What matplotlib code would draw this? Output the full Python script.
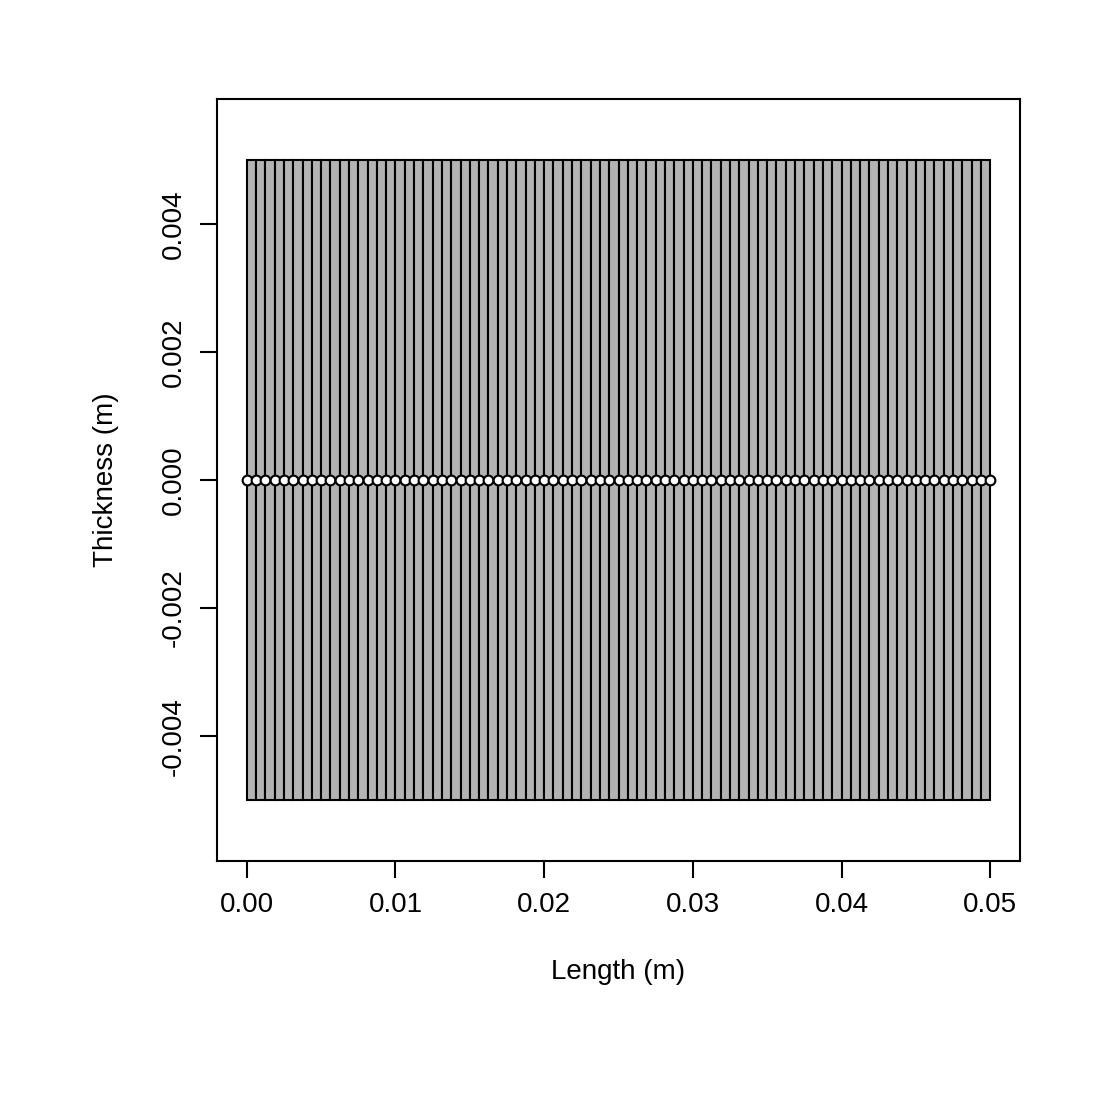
import matplotlib.pyplot as plt
import numpy as np

length = 0.05
thickness = 0.01
n_cells = 80
nodes = np.linspace(0, length, n_cells + 1)
node_y = np.zeros(n_cells + 1)

plt.rcParams['font.family'] = ['Liberation Sans', 'DejaVu Sans']
fig = plt.figure(figsize=(11, 11), dpi=100)
ax = fig.add_axes([217/1100, 239/1100, 803/1100, 762/1100])

for i in range(n_cells):
    ax.add_patch(plt.Rectangle((nodes[i], -thickness/2), nodes[i+1] - nodes[i], thickness,
                               facecolor='#b3b3b3', edgecolor='black', lw=1.5))
ax.plot(nodes, node_y, 'o', color='black', mfc='white', ms=7, mew=1.5, zorder=3)

ax.set_xlim(-0.002, 0.052)
ax.set_ylim(-0.00595, 0.00595)
ax.set_xticks([0, 0.01, 0.02, 0.03, 0.04, 0.05])
ax.set_xticklabels(['0.00', '0.01', '0.02', '0.03', '0.04', '0.05'])
ax.set_yticks([-0.004, -0.002, 0, 0.002, 0.004])
ax.set_yticklabels(['-0.004', '-0.002', '0.000', '0.002', '0.004'], rotation=90, va='center')
ax.tick_params(labelsize=20, length=12, width=1.5, pad=10)
for s in ax.spines.values():
    s.set_linewidth(1.5)
ax.set_xlabel('Length (m)', fontsize=20, labelpad=30)
ax.set_ylabel('Thickness (m)', fontsize=20, labelpad=30)

fig.savefig('out.png')
